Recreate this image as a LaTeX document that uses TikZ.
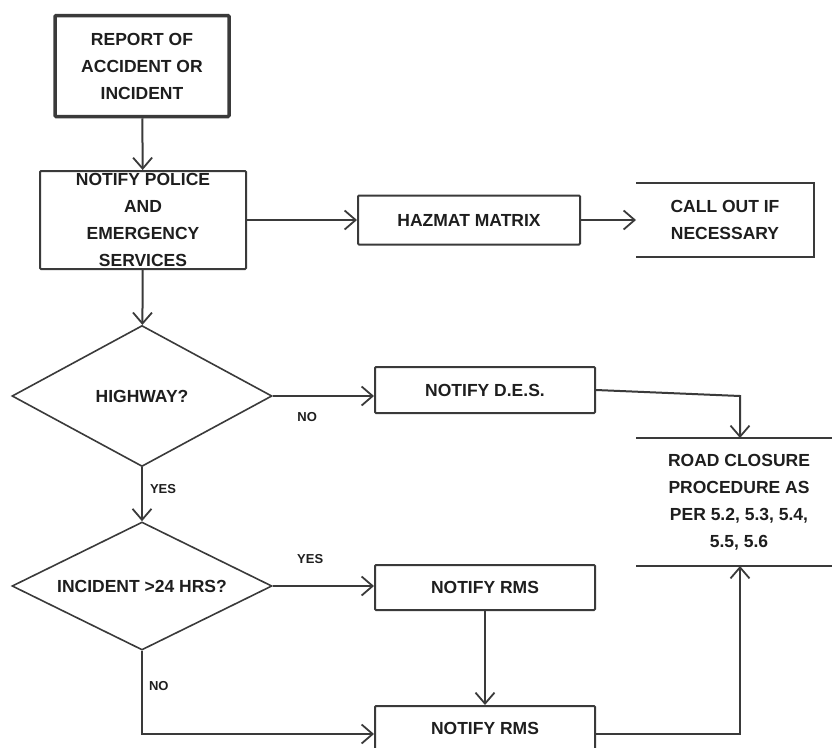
\documentclass[tikz,border=0pt]{standalone}
\usepackage{fontspec}
\setmainfont{Liberation Sans}
\usetikzlibrary{positioning,shapes.geometric,arrows.meta,calc}

\definecolor{linegray}{HTML}{3A3A3A}
\definecolor{textgray}{HTML}{1E1E1E}

\begin{document}
\begin{tikzpicture}[x=1pt, y=-1pt, >={Straight Barb[length=11pt,width=19pt,line width=1.8pt]},
    box/.style={draw=linegray, line width=2pt, rectangle, rounded corners=1pt, align=center, inner sep=2pt,
        text=textgray, font=\fontsize{17.5}{27}\selectfont\bfseries},
    decision/.style={draw=linegray, line width=1.6pt, diamond, align=center, inner sep=0pt,
        text=textgray, font=\fontsize{17.5}{27}\selectfont\bfseries},
    flow/.style={->, draw=linegray, line width=2pt},
    answer/.style={text=textgray, font=\fontsize{13}{14}\selectfont\bfseries, inner sep=1pt}]
        \useasboundingbox (0,0) rectangle (832,747);
        \clip (0,0) rectangle (832,747);

        % Nodes
        \node[box, line width=3.5pt, minimum width=174pt, minimum height=101pt] (report) at (142,66) {REPORT OF\\ACCIDENT OR\\INCIDENT};
        \node[box, minimum width=206pt, minimum height=98pt] (police) at (143,220) {NOTIFY POLICE\\AND\\EMERGENCY\\SERVICES};
        \node[box, minimum width=222pt, minimum height=49pt] (hazmat) at (469,220) {HAZMAT MATRIX};
        \node[box, draw=none, minimum width=176pt, minimum height=72pt] (callout) at (725,220) {CALL OUT IF\\NECESSARY};
        \node[decision, minimum width=260pt, minimum height=141pt, aspect=1.84] (highway) at (142,396) {HIGHWAY?};
        \node[box, minimum width=220pt, minimum height=46pt] (des) at (485,390) {NOTIFY D.E.S.};
        \node[box, draw=none, minimum width=204pt, minimum height=126pt] (road) at (739,502) {ROAD CLOSURE\\PROCEDURE AS\\PER 5.2, 5.3, 5.4,\\5.5, 5.6};
        \node[decision, minimum width=260pt, minimum height=128pt, aspect=2.03] (incident) at (142,586) {INCIDENT >24 HRS?};
        \node[box, minimum width=220pt, minimum height=45pt] (rms) at (485,587.5) {NOTIFY RMS};
        \node[box, minimum width=220pt, minimum height=56pt, text depth=12pt] (rmslast) at (485,734) {NOTIFY RMS};

        % Open box sides
        \draw[linegray, line width=2pt] (callout.north west) -- (callout.north east) -- (callout.south east) -- (callout.south west);
        \draw[linegray, line width=2pt] (road.north west) -- (road.north east);
        \draw[linegray, line width=2pt] (road.south west) -- (road.south east);
        \coordinate (desturn) at (740,396);

        % Arrows
        \draw[flow] (report) -- (police);
        \draw[flow] (police) -- (hazmat);
        \draw[flow] (hazmat) -- (callout);
        \draw[flow] (police) -- (highway);
        \draw[flow] (highway.east) -- node[answer, pos=0.34, below=14pt] {NO} (highway.east -| des.west);
        \draw[flow] (des.east) -- (desturn) -- (desturn |- road.north);
        \draw[flow] (highway) -- node[answer, pos=0.4, right=6pt] {YES} (incident);
        \draw[flow] (incident.east) -- node[answer, pos=0.37, above=20pt] {YES} (incident.east -| rms.west);
        \draw[flow] (rms) -- (rms |- rmslast.north);
        \draw[flow] (incident.south) -- node[answer, pos=0.42, right=5pt] {NO} (incident.south |- rmslast.west) -- (rmslast.west);
        \draw[flow] (rmslast.east) -| (desturn |- road.south);
    \end{tikzpicture}
\end{document}
